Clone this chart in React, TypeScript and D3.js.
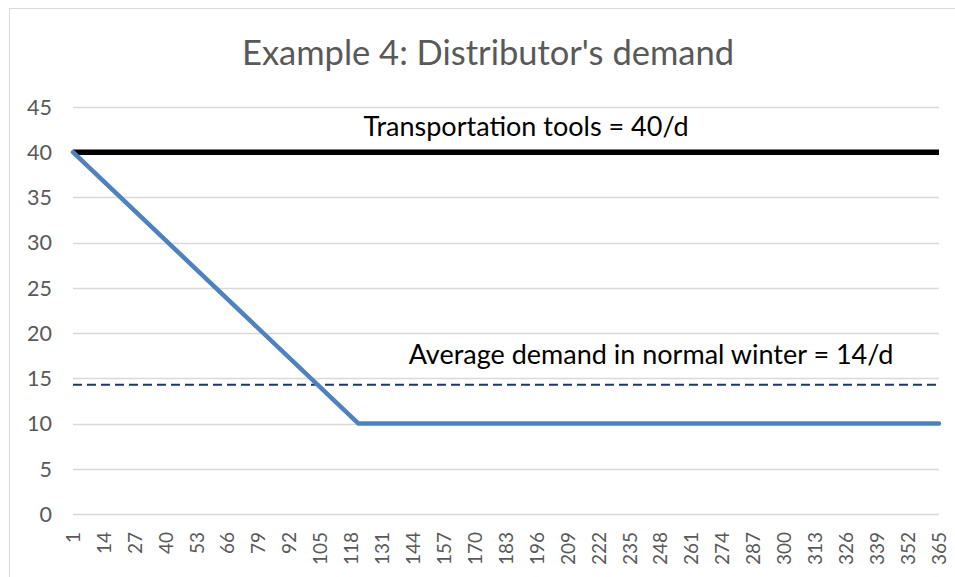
import React from "react";
import * as d3 from "d3";

const demandDays = [1, 121, 365];
const demandValues = [40, 10, 10];
const capacityDays = [1, 365];
const capacityValues = [40, 40];
const averageDays = [1, 365];
const averageValues = [14.3, 14.3];
const yTicks = [0, 5, 10, 15, 20, 25, 30, 35, 40, 45];
const xTickLabels = [1, 14, 27, 40, 53, 66, 79, 92, 105, 118, 131, 144, 157, 170, 183, 196, 209, 222, 235, 248, 261, 274, 287, 300, 313, 326, 339, 352, 365];
const titleText = "Example 4: Distributor's demand";
const capacityLabel = "Transportation tools = 40/d";
const averageLabel = "Average demand in normal winter = 14/d";

const W = 955;
const H = 577;
const FONT = "Lato, 'Open Sans', sans-serif";

export default function App() {
  const x = d3.scaleLinear().domain([1, 365]).range([73, 939]);
  const y = d3.scaleLinear().domain([0, 45]).range([514, 107]);
  const line = d3
    .line<[number, number]>()
    .x((d) => x(d[0]))
    .y((d) => y(d[1]));

  const demandPts = demandDays.map((d, i) => [d, demandValues[i]] as [number, number]);
  const capPts = capacityDays.map((d, i) => [d, capacityValues[i]] as [number, number]);
  const avgPts = averageDays.map((d, i) => [d, averageValues[i]] as [number, number]);

  return (
    <div style={{ position: "absolute", left: 0, top: 0 }}>
      <svg width={W} height={H} style={{ display: "block", background: "#fff" }}>
        <rect x={9.5} y={8.5} width={W + 20} height={H + 20} fill="#fff" stroke="#d9d9d9" strokeWidth={1} />
        <text x={488} y={65} textAnchor="middle" fontFamily={FONT} fontSize={34.5} fill="#595959">
          {titleText}
        </text>
        {yTicks.map((t) => (
          <g key={t}>
            <line x1={73} x2={939} y1={Math.round(y(t)) + 0.5} y2={Math.round(y(t)) + 0.5} stroke="#d9d9d9" strokeWidth={1.3} />
            <text x={52} y={y(t)} dy="0.36em" textAnchor="end" fontFamily={FONT} fontSize={21.5} fill="#595959">
              {t}
            </text>
          </g>
        ))}
        {xTickLabels.map((t) => (
          <text
            key={t}
            transform={`translate(${x(t)},532) rotate(-90)`}
            dy="0.36em"
            textAnchor="end"
            fontFamily={FONT}
            fontSize={19}
            fill="#595959"
          >
            {t}
          </text>
        ))}
        <path d={line(avgPts) || ""} fill="none" stroke="#1f3864" strokeWidth={2} strokeDasharray="9 5" />
        <path d={line(capPts) || ""} fill="none" stroke="#000" strokeWidth={5.5} />
        <path d={line(demandPts) || ""} fill="none" stroke="#4f81bd" strokeWidth={4.5} strokeLinejoin="round" strokeLinecap="round" />
        <text x={526} y={136} textAnchor="middle" fontFamily={FONT} fontSize={27} fill="#000">
          {capacityLabel}
        </text>
        <text x={651} y={364} textAnchor="middle" fontFamily={FONT} fontSize={27} fill="#000">
          {averageLabel}
        </text>
      </svg>
    </div>
  );
}
